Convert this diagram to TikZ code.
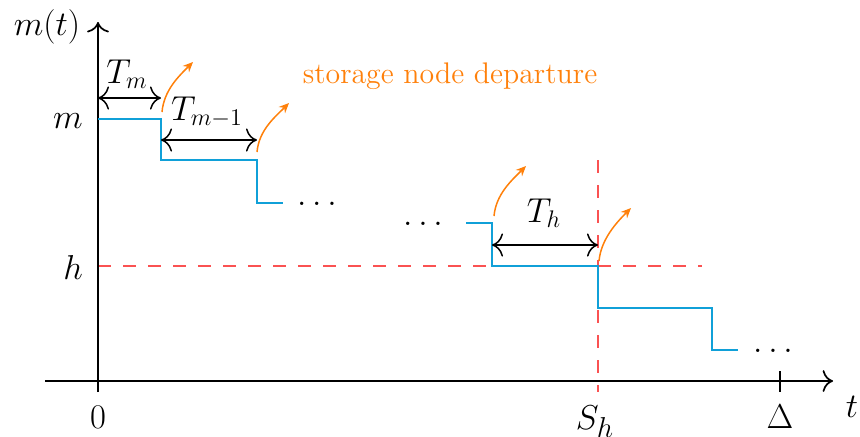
\documentclass[tikz,border=0pt]{standalone}
\usetikzlibrary{arrows.meta}
\definecolor{stepblue}{RGB}{16,160,216}
\definecolor{dashred}{RGB}{250,82,82}
\definecolor{deporange}{RGB}{255,128,10}
\begin{document}
\begin{tikzpicture}[x=0.5pt,y=-0.5pt,
  axislbl/.style={font=\fontsize{19}{23}\selectfont, inner sep=0pt, anchor=base},
  durlbl/.style={font=\LARGE, inner sep=0pt, anchor=base},
  deplbl/.style={font=\fontsize{14.9}{18}\selectfont, inner sep=0pt, anchor=base, text=deporange},
  axisline/.style={line width=0.85pt, -{To[scale=1.5]}},
  measure/.style={line width=0.75pt, {To[scale=1.7]}-{To[scale=1.7]}},
  stepline/.style={stepblue, line width=1.25pt},
  reddash/.style={dashred, line width=0.85pt, dash pattern=on 6.5pt off 6pt},
  deparrow/.style={deporange, line width=0.75pt, -{Stealth[length=5pt,width=4.4pt]}}]
\useasboundingbox (0,0) rectangle (860,436);

% key points
\coordinate (yb) at (98,392);
\coordinate (yt) at (98,22);
\coordinate (xl) at (45,381);
\coordinate (xr) at (833,381);
\coordinate (tkt) at (780,371);
\coordinate (tkb) at (780,392);

% threshold lines
\coordinate (hl) at (98,266);
\coordinate (hr) at (702,266);
\coordinate (st) at (598,160);
\coordinate (sb) at (598,392);
\draw[reddash] (hl) -- (hr);
\draw[reddash] (st) -- (sb);

% axes
\draw[axisline] (yb) -- (yt);
\draw[axisline] (xl) -- (xr);
\draw[line width=0.85pt] (tkt) -- (tkb);

% staircase
\draw[stepline] (98,119) -| (161,160) -| (257,203) -- (283,203);
\draw[stepline] (466,223) -| (492,266) -| (598,308) -| (712,350) -- (738,350);

% dots
\node[axislbl] (d1) at (317,205) {$\ldots$};
\node[axislbl] (d2) at (423,225) {$\ldots$};
\node[axislbl] (d3) at (773,352) {$\ldots$};

% axis labels
\node[axislbl] (lmt) at (47,35) {$m(t)$};
\node[axislbl] (lm) at (68,128) {$m$};
\node[axislbl] (lh) at (73,279) {$h$};
\node[axislbl] (l0) at (98,428) {$0$};
\node[axislbl] (lS) at (595,429) {$S_h$};
\node[axislbl] (lD) at (780,428) {$\Delta$};
\node[axislbl] (lt) at (852,417) {$t$};

% durations
\coordinate (a1) at (98,98);  \coordinate (b1) at (161,98);
\coordinate (a2) at (161,140); \coordinate (b2) at (257,140);
\coordinate (a3) at (492,245); \coordinate (b3) at (598,245);
\draw[measure] (a1) -- (b1);
\draw[measure] (a2) -- (b2);
\draw[measure] (a3) -- (b3);
\node[durlbl] (tm) at (127,83) {$T_m$};
\node[durlbl] (tm1) at (207,120) {$T_{m-1}$};
\node[durlbl] (th) at (544,222) {$T_h$};

% departures
\coordinate (o1s) at (162,112); \coordinate (o1e) at (193,62);
\coordinate (o2s) at (257,152); \coordinate (o2e) at (289,103);
\coordinate (o3s) at (494,216); \coordinate (o3e) at (526,166);
\coordinate (o4s) at (599,261); \coordinate (o4e) at (631,208);
\draw[deparrow] (o1s) .. controls +(2,-22) and +(-14,14) .. (o1e);
\draw[deparrow] (o2s) .. controls +(2,-22) and +(-14,14) .. (o2e);
\draw[deparrow] (o3s) .. controls +(2,-22) and +(-14,14) .. (o3e);
\draw[deparrow] (o4s) .. controls +(2,-22) and +(-14,14) .. (o4e);
\node[deplbl] (dep) at (450,83) {storage node departure};
\end{tikzpicture}
\end{document}
